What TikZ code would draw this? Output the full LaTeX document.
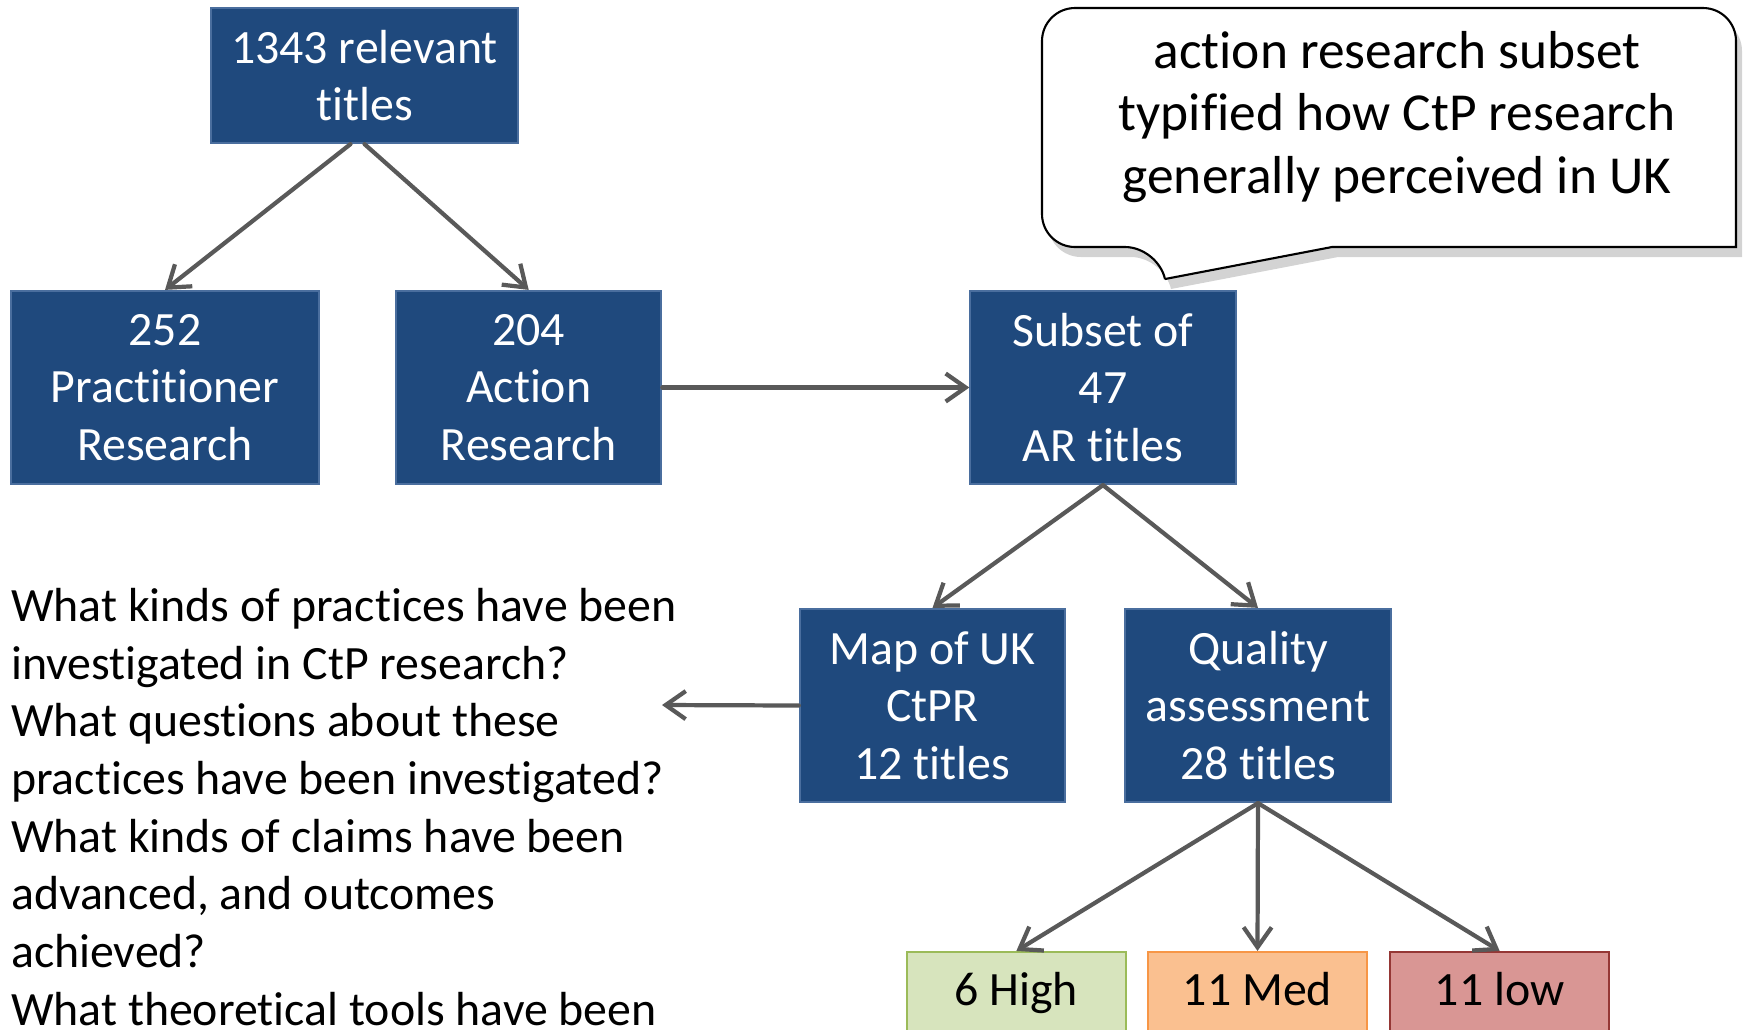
\documentclass[tikz,border=0pt]{standalone}
\usepackage{fontspec}
\setmainfont{Carlito}[Ligatures=NoCommon]
\usetikzlibrary{arrows.meta,positioning,shadows}

\definecolor{boxblue}{HTML}{1F497D}
\definecolor{boxedge}{HTML}{4A6E9E}
\definecolor{arrowgrey}{HTML}{595959}
\definecolor{highfill}{HTML}{D7E4BD}
\definecolor{highedge}{HTML}{9BBB59}
\definecolor{medfill}{HTML}{FAC090}
\definecolor{mededge}{HTML}{F79646}
\definecolor{lowfill}{HTML}{D99694}
\definecolor{lowedge}{HTML}{953735}

\newcommand{\boxfont}{\fontsize{13.6pt}{16.4pt}\selectfont}
\newcommand{\notefont}{\fontsize{15.2pt}{17.9pt}\selectfont}

\begin{document}
\begin{tikzpicture}
		[x=0.01cm, y=-0.01cm, node distance={36.35mm}, very thick,
		main/.style = {draw=boxedge, line width=0.6pt, fill=boxblue, text=white, align=center,
			font=\boxfont, inner sep=0pt, minimum width=2.65cm, minimum height=1.93cm},
		grade/.style = {line width=0.6pt, font=\boxfont, inner sep=0pt, text height=0.78em,
			text depth=0pt, minimum width=2.19cm, minimum height=0.8cm},
		arr/.style = {draw=arrowgrey, line cap=round, -{Straight Barb[length=2mm, width=2.8mm]}}]
	\path[use as bounding box, clip] (0,0) rectangle (1748,1029);
	\node[main, minimum width=3.07cm, minimum height=1.35cm] (top) at (364.5,75.5) {1343 relevant\\titles};
	\node[main, minimum width=3.08cm] (pr) at (165,387.5) {252\\Practitioner\\Research};
	\node[main] (ar) [right of = pr] {204\\Action\\Research};
	\node[main] (sub) at (1103,387.5) {Subset of\\47\\AR titles};
	\node[main] (map) at (932.5,705.5) {Map of UK\\CtPR\\12 titles};
	\node[main] (qual) at (1258,705.5) {Quality\\assessment\\28 titles};
	\node[grade, draw=mededge, fill=medfill] (med) at (1257.5,992) {11 Med};
	\node[grade, draw=highedge, fill=highfill] (high) [left of = med, node distance=24.1mm] {6 High};
	\node[grade, draw=lowedge, fill=lowfill] (low) [right of = med, node distance=24.2mm] {11 low};
	% questions asked of the map
	\node[align=left, anchor=north west, inner sep=0pt, font=\boxfont] (qs) at (9,586)
		{What kinds of practices have been\\investigated in CtP research?\\What questions about these\\practices have been investigated?\\What kinds of claims have been\\advanced, and outcomes\\achieved?\\What theoretical tools have been};
	\coordinate (qend) at (662,705);
	% speech bubble
	\draw[line width=0.6pt, fill=white, drop shadow={shadow xshift=0.6mm, shadow yshift=-1mm, opacity=0.35}]
		(1389,8) [rounded corners=3.3mm] -- (1042,8) -- (1042,247) -- (1158,247) [sharp corners]
		-- (1165,279) -- (1332,247) -- (1736,247) [rounded corners=3.3mm] -- (1736,8) -- cycle;
	\node[align=center, font=\notefont] (note) at (1397,117)
		{action research subset\\typified how CtP research\\generally perceived in UK};
	\draw[arr] ([xshift=-1.4mm]top.south) -- (pr.north);
	\draw[arr] (top.south) -- (ar.north);
	\draw[arr] (ar.east) -- (sub.west);
	\draw[arr] (sub.south) -- (map.north);
	\draw[arr] (sub.south) -- (qual.north);
	\draw[arr] (map.west) -- (qend);
	\draw[arr] (qual.south) -- (high.north);
	\draw[arr] (qual.south) -- (med.north);
	\draw[arr] (qual.south) -- (low.north);
\end{tikzpicture}
\end{document}
